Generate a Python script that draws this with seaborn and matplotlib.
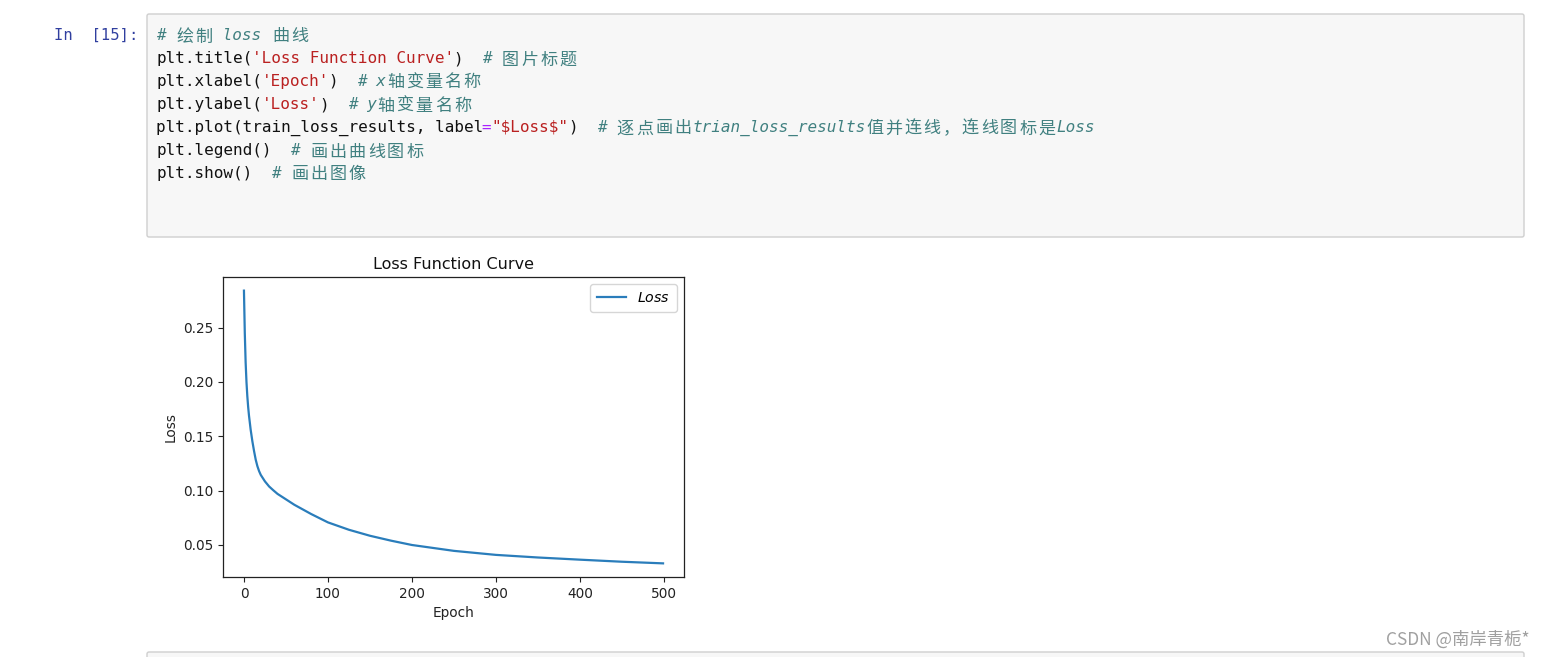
import matplotlib
matplotlib.use("Agg")
import matplotlib.pyplot as plt
import matplotlib.patches as mpatches
import seaborn as sns

# ---------------- data ----------------
epochs = [0, 1, 2, 3, 4, 5, 6, 8, 10, 12, 14, 16, 18, 20, 25, 30, 35, 40, 50, 60, 80,
          100, 125, 150, 175, 200, 250, 300, 350, 400, 450, 499]
loss = [0.284, 0.245, 0.218, 0.200, 0.187, 0.177, 0.169, 0.156, 0.1455, 0.1365, 0.1285,
        0.1225, 0.1180, 0.1145, 0.1085, 0.1038, 0.1003, 0.097, 0.092, 0.087, 0.0785,
        0.0708, 0.064, 0.0585, 0.054, 0.050, 0.0446, 0.0409, 0.0385, 0.0365, 0.0346, 0.0331]
x_ticks = [0, 100, 200, 300, 400, 500]
y_ticks = [0.05, 0.10, 0.15, 0.20, 0.25]

title_text = "Loss Function Curve"
xlabel_text = "Epoch"
ylabel_text = "Loss"
legend_label = "$Loss$"
prompt_text = "In  [15]:"
watermark_text = "CSDN @南岸青栀*"

# code cell tokens: (text, kind) kind: k=code, s=string, o=operator, c=comment
code_lines = [
    [("# 绘制 loss 曲线", "c")],
    [("plt.title(", "k"), ("'Loss Function Curve'", "s"), (")", "k"), ("  ", "k"), ("# 图片标题", "c")],
    [("plt.xlabel(", "k"), ("'Epoch'", "s"), (")", "k"), ("  ", "k"), ("# x轴变量名称", "c")],
    [("plt.ylabel(", "k"), ("'Loss'", "s"), (")", "k"), ("  ", "k"), ("# y轴变量名称", "c")],
    [("plt.plot(train_loss_results, label", "k"), ("=", "o"), ('"$Loss$"', "s"), (")", "k"),
     ("  ", "k"), ("# 逐点画出trian_loss_results值并连线，连线图标是Loss", "c")],
    [("plt.legend()", "k"), ("  ", "k"), ("# 画出曲线图标", "c")],
    [("plt.show()", "k"), ("  ", "k"), ("# 画出图像", "c")],
]

colors = {"k": "#111111", "s": "#BA2121", "o": "#AA22FF", "c": "#408080"}

W, H = 1544, 657
fig = plt.figure(figsize=(W / 100, H / 100), dpi=100)
fig.patch.set_facecolor("white")

# overlay in pixel coordinates
ov = fig.add_axes([0, 0, 1, 1], zorder=0)
ov.set_xlim(0, W)
ov.set_ylim(H, 0)
ov.axis("off")

# code cell box
ov.add_patch(mpatches.FancyBboxPatch((147, 14), 1377, 223, boxstyle="round,pad=0,rounding_size=2",
                                     facecolor="#f7f7f7", edgecolor="#cfcfcf", linewidth=1))
# next cell top
ov.add_patch(mpatches.FancyBboxPatch((147, 652), 1377, 40, boxstyle="round,pad=0,rounding_size=2",
                                     facecolor="#f7f7f7", edgecolor="#cfcfcf", linewidth=1))

ov.text(138, 40, prompt_text, family=["DejaVu Sans Mono"], fontsize=11.2, color="#303F9F",
        ha="right", va="baseline", parse_math=False)

x0 = 156.0
cw = 9.58
mono = ["DejaVu Sans Mono"]
cjk = ["Noto Sans CJK SC"]


def is_cjk(ch):
    return ord(ch) > 0x2E80


for li, line in enumerate(code_lines):
    base = 40 + 23 * li
    col = 0
    for text, kind in line:
        style = "oblique" if kind == "c" else "normal"
        color = colors[kind]
        buf = ""
        buf_col = col
        for ch in text:
            if is_cjk(ch):
                if buf:
                    ov.text(x0 + buf_col * cw, base, buf, family=mono, fontsize=11.5,
                            style=style, color=color, va="baseline", ha="left",
                            parse_math=False)
                    buf = ""
                ov.text(x0 + col * cw + cw, base + 1.5, ch, family=cjk, fontsize=12.3,
                        color=color, va="baseline", ha="center", parse_math=False)
                col += 2
                buf_col = col
            else:
                if not buf:
                    buf_col = col
                buf += ch
                col += 1
        if buf:
            ov.text(x0 + buf_col * cw, base, buf, family=mono, fontsize=11.5,
                    style=style, color=color, va="baseline", ha="left", parse_math=False)

ov.text(1530, 645, watermark_text, family=["Noto Sans CJK SC"], fontsize=12.5,
        color="#a0a0a0", ha="right", va="baseline")

# ---------------- chart ----------------
ax = fig.add_axes([223 / W, (H - 577) / H, 461 / W, 300 / H], zorder=1)
ax.set_facecolor("white")
sns.lineplot(x=epochs, y=loss, ax=ax, color="#2a7dbb", linewidth=1.6, label=legend_label)
ax.set_title(title_text, fontsize=11.5, color="#111111")
ax.set_xlabel(xlabel_text, fontsize=9.8, color="#222222")
ax.set_ylabel(ylabel_text, fontsize=9.8, color="#222222")
ax.set_xticks(x_ticks)
ax.set_yticks(y_ticks)
ax.set_xticklabels([str(t) for t in x_ticks])
ax.set_yticklabels([f"{t:.2f}" for t in y_ticks])
ax.tick_params(labelsize=9.8, colors="#222222", direction="out", length=3.5)
ax.margins(x=0.05, y=0.05)
for s in ax.spines.values():
    s.set_visible(True)
    s.set_color("#222222")
    s.set_linewidth(0.9)
ax.legend(loc="upper right", fontsize=10.2, frameon=True, borderpad=0.5, handlelength=2.0)

fig.savefig("out.png", dpi=100, facecolor="white")
